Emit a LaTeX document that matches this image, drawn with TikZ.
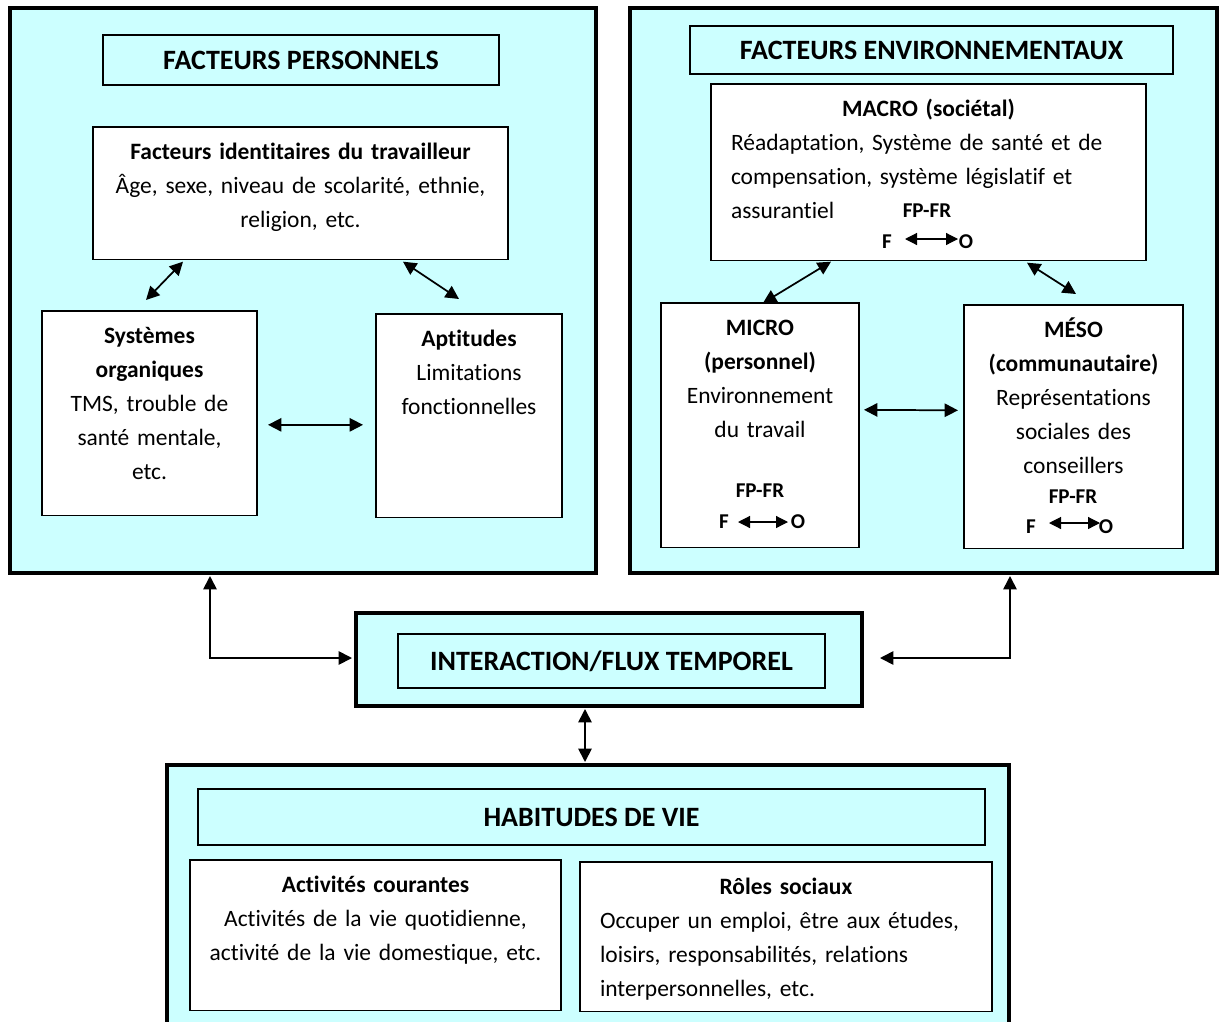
\documentclass[tikz,border=0pt]{standalone}
\usepackage{fontspec}
\setmainfont{Carlito}[Ligatures=NoCommon]
\usetikzlibrary{arrows.meta,calc}

\definecolor{cyanfond}{RGB}{204,255,255}
\newcommand{\corps}{\fontsize{17.6}{25.5}\selectfont}
\newcommand{\gros}{\fontsize{21}{25}\selectfont\bfseries}
\newcommand{\petit}{\fontsize{15.8}{18}\selectfont\bfseries}

\begin{document}
\begin{tikzpicture}[x=0.75pt,y=-0.75pt,
  cadre/.style={draw,line width=3.5pt,fill=cyanfond,inner sep=0pt,outer sep=0pt},
  titre/.style={draw,line width=0.9pt,fill=cyanfond,inner sep=0pt,outer sep=0pt,font=\gros},
  boite/.style={draw,line width=0.9pt,fill=white,anchor=north,inner sep=0pt,outer sep=0pt,align=center,text height=24.5pt,font=\corps},
  fleche/.style={{Triangle[length=10pt,width=10pt]}-{Triangle[length=10pt,width=10pt]},line width=1.3pt},
  fpfr/.style={inner sep=0pt,font=\petit},
  petitefleche/.style={{Triangle[length=9pt,width=9pt]}-{Triangle[length=9pt,width=9pt]},line width=0.9pt}]
\useasboundingbox (0,0) rectangle (1220,1021);

% facteurs personnels
\node[cadre,minimum width=439.5pt,minimum height=423.75pt] (P) at (303,290.5) {};
\node[titre,minimum width=297pt,minimum height=37.5pt] (PT) at (301,60) {FACTEURS PERSONNELS};
\node[boite,text width=311.25pt,text depth=75pt] (ID) at (300.5,127) {\textbf{Facteurs identitaires du travailleur}\\Âge, sexe, niveau de scolarité, ethnie,\\religion, etc.};
\node[boite,text width=161.25pt,text depth=129pt] (SO) at (149.5,311) {\textbf{Systèmes}\\\textbf{organiques}\\TMS, trouble de\\santé mentale,\\etc.};
\node[boite,text width=139.5pt,text depth=128.25pt] (AP) at (469,314) {\textbf{Aptitudes}\\Limitations\\fonctionnelles};
\draw[fleche] ($(ID.south)+(-117.5,2)$) -- ($(SO.north)+(-3.5,-11)$);
\draw[fleche] ($(ID.south)+(102.5,2)$) -- ($(AP.north)+(-10,-15)$);
\draw[fleche] ($(SO.east)+(11,11.5)$) -- ($(AP.west)+(-13,9)$);

% facteurs environnementaux
\node[cadre,minimum width=440.25pt,minimum height=423.75pt] (E) at (923.5,290.5) {};
\node[titre,minimum width=362.25pt,minimum height=36pt] (ET) at (931.5,50) {FACTEURS ENVIRONNEMENTAUX};
\node[boite,align=left,inner xsep=15pt,text width=296.25pt,text depth=108pt] (MA) at (928.5,84) {\makebox[\linewidth]{\bfseries MACRO (sociétal)}\\Réadaptation, Système de santé et de\\compensation, système législatif et\\assurantiel};
\node[boite,text width=148.5pt,text depth=159pt] (MI) at (760,303) {\textbf{MICRO}\\\textbf{(personnel)}\\Environnement\\du travail};
\node[boite,text width=164.25pt,text depth=158.25pt] (ME) at (1073.5,305) {\textbf{MÉSO}\\\textbf{(communautaire)}\\Représentations\\sociales des\\conseillers};
\node[fpfr] (MAfp) at (927,211) {FP-FR};
\node[fpfr] (MAf) at (887,242) {F};
\node[fpfr] (MAo) at (966,242) {O};
\draw[petitefleche] ($(MAf)+(18,-3)$) -- ($(MAo)+(-8,-3)$);
\node[fpfr] (MIfp) at (760,491) {FP-FR};
\node[fpfr] (MIf) at (724,522) {F};
\node[fpfr] (MIo) at (798,522) {O};
\draw[petitefleche] ($(MIf)+(14,0)$) -- ($(MIo)+(-10,0)$);
\node[fpfr] (MEfp) at (1073,497) {FP-FR};
\node[fpfr] (MEf) at (1031,527) {F};
\node[fpfr] (MEo) at (1106,527) {O};
\draw[petitefleche] ($(MEf)+(18,-4)$) -- ($(MEo)+(-6,-4)$);
\draw[fleche] ($(MA.south)+(-97.5,1)$) -- ($(MI.north)+(3,0)$);
\draw[fleche] ($(MA.south)+(98.5,2)$) -- ($(ME.north)+(2.5,-11)$);
\draw[fleche] ($(MI.east)+(5,-15.5)$) -- ($(ME.west)+(-6,-16.5)$);

% interaction
\node[cadre,minimum width=379.5pt,minimum height=69.75pt] (I) at (609,659.5) {};
\node[titre,minimum width=320.25pt,minimum height=40.5pt] (IT) at (611.5,661) {INTERACTION/FLUX TEMPOREL};
\draw[fleche] ($(P.south)+(-93,3)$) |- ($(I.west)+(-4,-1.5)$);
\draw[fleche] ($(E.south)+(86.5,3)$) |- ($(I.east)+(18,-1.5)$);

% habitudes de vie
\node[cadre,minimum width=631.5pt,minimum height=206.25pt] (H) at (588,902.5) {};
\node[titre,minimum width=590.25pt,minimum height=42pt] (HT) at (591.5,817) {HABITUDES DE VIE};
\node[boite,text width=278.25pt,text depth=88.5pt] (AC) at (375.5,860) {\textbf{Activités courantes}\\Activités de la vie quotidienne,\\activité de la vie domestique, etc.};
\node[boite,align=left,inner xsep=15pt,text width=279pt,text depth=87.75pt] (RS) at (786,862) {\makebox[\linewidth]{\bfseries Rôles sociaux}\\Occuper un emploi, être aux études,\\loisirs, responsabilités, relations\\interpersonnelles, etc.};
\draw[fleche] ($(I.south)+(-24,3)$) -- ($(H.north)+(-3,-3)$);
\end{tikzpicture}
\end{document}
